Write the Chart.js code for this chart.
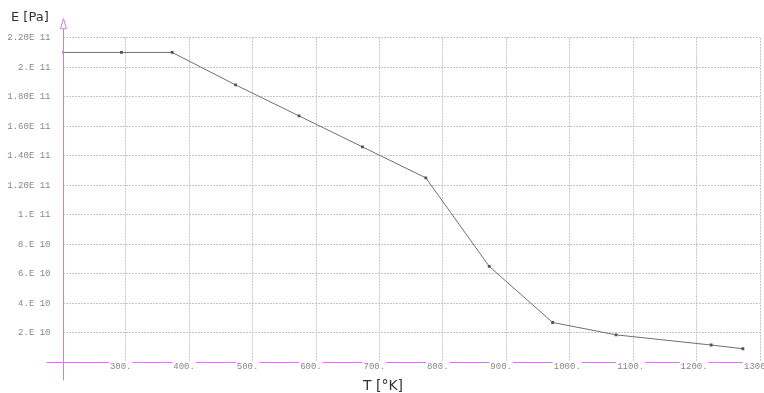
<!DOCTYPE html>
<html>
<head>
<meta charset="utf-8">
<script src="https://cdn.jsdelivr.net/npm/chart.js@4"></script>
<style>
  html, body { margin: 0; padding: 0; background: #fff; }
  #wrap { width: 764px; height: 393px; }
</style>
</head>
<body>
<div id="wrap"><canvas id="modulusChart" width="764" height="393"></canvas></div>
<script>
// Young's modulus vs temperature
const temps = [200, 293, 373, 473, 573, 673, 773, 873, 973, 1073, 1223, 1273];
const moduli = [2.1e11, 2.1e11, 2.1e11, 1.88e11, 1.67e11, 1.46e11, 1.25e11, 6.5e10, 2.7e10, 1.86e10, 1.17e10, 0.92e10];

const xTickValues = [300, 400, 500, 600, 700, 800, 900, 1000, 1100, 1200, 1300];
const xTickLabels = ['300.', '400.', '500.', '600.', '700.', '800.', '900.', '1000.', '1100.', '1200.', '1300.'];
const yTickValues = [2e10, 4e10, 6e10, 8e10, 1e11, 1.2e11, 1.4e11, 1.6e11, 1.8e11, 2e11, 2.2e11];
const yTickLabels = ['2.E 10', '4.E 10', '6.E 10', '8.E 10', '1.E 11', '1.20E 11', '1.40E 11', '1.60E 11', '1.80E 11', '2.E 11', '2.20E 11'];

const purple = '#c584d4';
const gridGrey = '#c6c6c6';
const tickFont = { family: '"Liberation Mono", "DejaVu Sans Mono", monospace', size: 9, lineHeight: 1 };

function labelFor(values, labels, v) {
  const i = values.findIndex(t => Math.abs(t - v) < Math.abs(t) * 1e-6 + 1e-9);
  return i >= 0 ? labels[i] : '';
}

// draws the purple axes: y axis with open arrow, x axis broken around tick labels
const axisLines = {
  id: 'axisLines',
  afterLayout(chart) {
    // nudge the "E [Pa]" title a little to the right
    if (chart.titleBlock) chart.titleBlock.left = 11;
  },
  afterDraw(chart) {
    const { ctx, chartArea, scales: { x, y } } = chart;
    const x0 = Math.round(x.getPixelForValue(x.min)) + 0.5;
    const y0 = Math.round(y.getPixelForValue(0)) + 0.5;
    ctx.save();
    ctx.strokeStyle = purple;
    ctx.lineWidth = 1;
    // vertical axis
    const tipY = chartArea.top - 19;
    ctx.beginPath();
    ctx.moveTo(x0, tipY + 10);
    ctx.lineTo(x0, y0 + 18);
    ctx.stroke();
    ctx.beginPath();
    ctx.moveTo(x0, tipY);
    ctx.lineTo(x0 - 3, tipY + 10);
    ctx.lineTo(x0 + 3, tipY + 10);
    ctx.closePath();
    ctx.stroke();
    // horizontal axis with gaps for labels
    ctx.font = '9px "Liberation Mono", "DejaVu Sans Mono", monospace';
    let start = x0 - 17;
    x.ticks.forEach(t => {
      const label = labelFor(xTickValues, xTickLabels, t.value);
      if (!label) return;
      const left = x.getPixelForValue(t.value) - 16;
      const w = ctx.measureText(label).width;
      ctx.beginPath();
      ctx.moveTo(start, y0);
      ctx.lineTo(left - 1, y0);
      ctx.stroke();
      start = left + w + 1;
    });
    if (start < chart.width) {
      ctx.beginPath();
      ctx.moveTo(start, y0);
      ctx.lineTo(chart.width, y0);
      ctx.stroke();
    }
    ctx.restore();
  }
};

const ctx = document.getElementById('modulusChart').getContext('2d');
const modulusChart = new Chart(ctx, {
  type: 'line',
  data: {
    datasets: [{
      label: 'E',
      data: temps.map((t, i) => ({ x: t, y: moduli[i] })),
      borderColor: '#707070',
      borderWidth: 1,
      pointStyle: 'rect',
      pointRadius: 2,
      pointBackgroundColor: '#555',
      pointBorderColor: '#555',
      pointBorderWidth: 0,
      fill: false,
      tension: 0
    }]
  },
  options: {
    responsive: false,
    animation: false,
    events: [],
    layout: { padding: { left: 6, right: 4, top: 0, bottom: 0 } },
    plugins: {
      legend: { display: false },
      tooltip: { enabled: false },
      title: {
        display: true,
        text: 'E [Pa]',
        align: 'start',
        color: '#333',
        font: { family: '"DejaVu Sans", sans-serif', size: 13, weight: 'normal', lineHeight: 1 },
        padding: { top: 11.5, bottom: 13.2 }
      },
      subtitle: {
        display: true,
        position: 'bottom',
        text: 'T [°K]',
        color: '#333',
        font: { family: '"DejaVu Sans", sans-serif', size: 14, weight: 'normal', lineHeight: 1 },
        padding: { top: 7.7, bottom: 0 }
      }
    },
    scales: {
      x: {
        type: 'linear',
        min: 200,
        max: 1300,
        border: { display: false, dash: [2, 1] },
        grid: {
          drawTicks: false,
          color: c => (c.tick && c.tick.value === 200) ? 'rgba(0,0,0,0)' : gridGrey,
          lineWidth: 1
        },
        ticks: {
          stepSize: 100,
          autoSkip: false,
          maxRotation: 0,
          minRotation: 0,
          align: 'start',
          labelOffset: -16,
          padding: 0,
          color: '#888',
          font: tickFont,
          callback: v => labelFor(xTickValues, xTickLabels, v)
        },
        afterFit: s => { s.paddingLeft = 0; s.paddingRight = 0; }
      },
      y: {
        type: 'linear',
        min: 0,
        max: 2.2e11,
        border: { display: false, dash: [2, 1] },
        grid: {
          drawTicks: false,
          color: c => (c.tick && c.tick.value === 0) ? 'rgba(0,0,0,0)' : gridGrey,
          lineWidth: 1
        },
        ticks: {
          stepSize: 2e10,
          autoSkip: false,
          padding: 12,
          color: '#888',
          font: tickFont,
          callback: v => labelFor(yTickValues, yTickLabels, v)
        },
        afterFit: s => { s.width = 56.5; s.paddingTop = 0; s.paddingBottom = 0; }
      }
    }
  },
  plugins: [axisLines]
});
</script>
</body>
</html>
